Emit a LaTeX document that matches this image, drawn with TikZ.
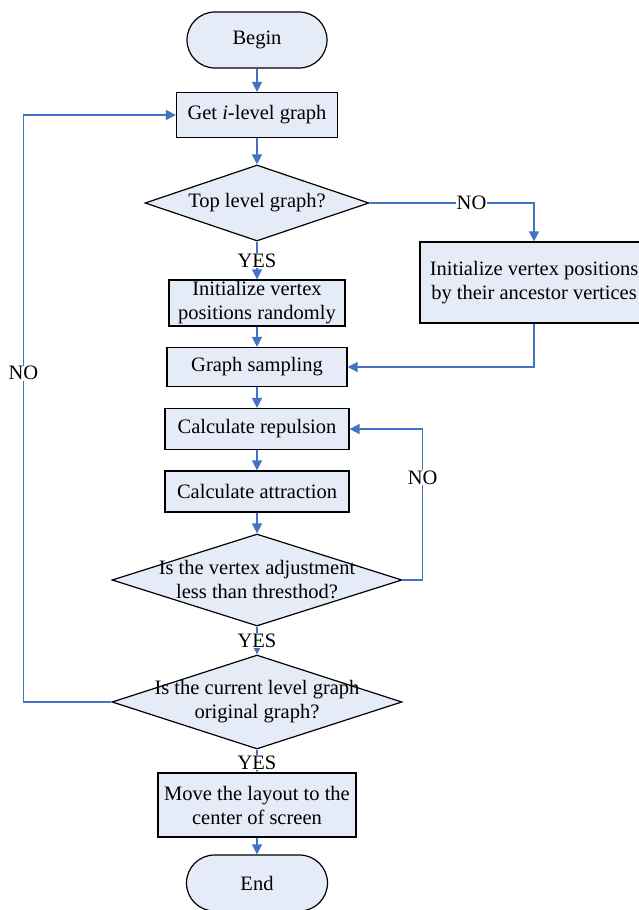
\documentclass[tikz,border=0pt]{standalone}
\usepackage{fontspec}
\setmainfont{Liberation Serif}
\usepackage{tikz}
\usepackage{xcolor}
\usetikzlibrary{arrows.meta,shapes.geometric}
\definecolor{flowblue}{RGB}{68,114,196}
\definecolor{boxfill}{RGB}{230,236,247}

\begin{document}
\begin{tikzpicture}[x=1pt,y=-1pt,font=\fontsize{20.5}{24}\selectfont,
  box/.style={draw,line width=1.2pt,fill=boxfill,align=center,inner sep=1pt},
  term/.style={box,rounded corners=28,minimum width=140,minimum height=56},
  decision/.style={diamond,draw,line width=1.2pt,fill=boxfill,inner sep=0pt},
  flow/.style={draw=flowblue,line width=1.4pt,-{Triangle[length=10pt,width=10pt]}},
  lbl/.style={fill=white,inner sep=0.5pt}]
\useasboundingbox (0,0) rectangle (639,910);
\node[term] (start) at (257,40) {Begin};
\node[box,minimum width=161,minimum height=45] (get) at (257,115) {Get \textit{i}-level graph};
\node[decision,minimum width=224,minimum height=76,label={center:Top level graph?}] (top) at (257,203) {};
\node[box,minimum width=176,minimum height=46] (rand) at (257,303) {Initialize vertex\\positions randomly};
\node[box,minimum width=228,minimum height=81] (anc) at (534,282.5) {Initialize vertex positions\\by their ancestor vertices};
\node[box,minimum width=180,minimum height=39] (samp) at (257,367) {Graph sampling};
\node[box,minimum width=184,minimum height=41] (rep) at (257,429) {Calculate repulsion};
\node[box,minimum width=184,minimum height=41] (att) at (257,491.5) {Calculate attraction};
\node[decision,minimum width=290,minimum height=92,
  label={[align=center]center:Is the vertex adjustment\\less than thresthod?}] (adj) at (257,580) {};
\node[decision,minimum width=290,minimum height=94,
  label={[align=center]center:Is the current level graph\\original graph?}] (orig) at (257,702) {};
\node[box,minimum width=198,minimum height=64] (move) at (257,805) {Move the layout to the\\center of screen};
\node[term,minimum width=141] (finish) at (257,883) {End};
\draw[flow] (start) -- (get);
\draw[flow] (get) -- (top);
\draw[flow] (top) -- node[lbl]{YES} (rand);
\draw[flow] (top.east) -| node[lbl,pos=0.31]{NO} (anc.north);
\draw[flow] (rand) -- (samp);
\draw[flow] (anc.south) |- (samp.east);
\draw[flow] (samp) -- (rep);
\draw[flow] (rep) -- (att);
\draw[flow] (att) -- (adj);
\draw[flow] (adj.east) -- ++(20,0) |- node[lbl,pos=0.34]{NO} (rep.east);
\draw[flow] (adj) -- node[lbl]{YES} (orig);
\draw[flow] (orig.west) -- ++(-88,0) |- node[lbl,pos=0.28]{NO} (get.west);
\draw[flow] (orig) -- node[lbl,pos=0.58]{YES} (move);
\draw[flow] (move) -- (finish);
\end{tikzpicture}
\end{document}
